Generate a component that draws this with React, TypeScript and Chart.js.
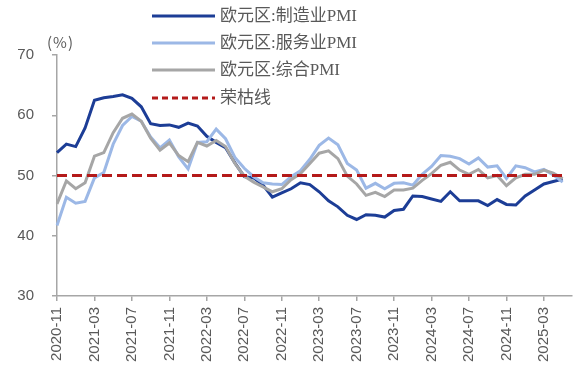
import React, { useEffect, useRef } from "react";
import { Chart, registerables } from "chart.js";

Chart.register(...registerables);

const months: string[] = [
  "2020-11", "2020-12",
  "2021-01", "2021-02", "2021-03", "2021-04", "2021-05", "2021-06", "2021-07", "2021-08", "2021-09", "2021-10", "2021-11", "2021-12",
  "2022-01", "2022-02", "2022-03", "2022-04", "2022-05", "2022-06", "2022-07", "2022-08", "2022-09", "2022-10", "2022-11", "2022-12",
  "2023-01", "2023-02", "2023-03", "2023-04", "2023-05", "2023-06", "2023-07", "2023-08", "2023-09", "2023-10", "2023-11", "2023-12",
  "2024-01", "2024-02", "2024-03", "2024-04", "2024-05", "2024-06", "2024-07", "2024-08", "2024-09", "2024-10", "2024-11", "2024-12",
  "2025-01", "2025-02", "2025-03", "2025-04", "2025-05", "2025-06",
];

const manufacturing: (number | null)[] = [
  53.8, 55.2,
  54.8, 57.9, 62.5, 62.9, 63.1, 63.4, 62.8, 61.4, 58.6, 58.3, 58.4, 58.0,
  58.7, 58.2, 56.5, 55.5, 54.6, 52.1, 49.8, 49.6, 48.4, 46.4, 47.1, 47.8,
  48.8, 48.5, 47.3, 45.8, 44.8, 43.4, 42.7, 43.5, 43.4, 43.1, 44.2, 44.4,
  46.6, 46.5, 46.1, 45.7, 47.3, 45.8, 45.8, 45.8, 45.0, 46.0, 45.2, 45.1,
  46.6, 47.6, 48.6, 49.0, 49.4, null,
];

const services: (number | null)[] = [
  41.7, 46.4,
  45.4, 45.7, 49.6, 50.5, 55.2, 58.3, 59.8, 59.0, 56.4, 54.6, 55.9, 53.1,
  51.1, 55.5, 55.6, 57.7, 56.1, 53.0, 51.2, 49.8, 48.8, 48.6, 48.5, 49.8,
  50.8, 52.7, 55.0, 56.2, 55.1, 52.0, 50.9, 47.9, 48.7, 47.8, 48.7, 48.8,
  48.4, 50.2, 51.5, 53.3, 53.2, 52.8, 51.9, 52.9, 51.4, 51.6, 49.5, 51.6,
  51.3, 50.6, 51.0, 50.1, 48.9, null,
];

const composite: (number | null)[] = [
  45.3, 49.1,
  47.8, 48.8, 53.2, 53.8, 57.1, 59.5, 60.2, 59.0, 56.2, 54.2, 55.4, 53.3,
  52.3, 55.5, 54.9, 55.8, 54.8, 52.0, 49.9, 48.9, 48.1, 47.3, 47.8, 49.3,
  50.3, 52.0, 53.7, 54.1, 52.8, 49.9, 48.6, 46.7, 47.2, 46.5, 47.6, 47.6,
  47.9, 49.2, 50.3, 51.7, 52.2, 50.9, 50.2, 51.0, 49.6, 50.0, 48.3, 49.6,
  50.2, 50.2, 50.9, 50.4, 49.5, null,
];

const boomBust: (number | null)[] = months.map((_, i) => (i < months.length - 1 ? 50 : null));

const yTicks: number[] = [30, 40, 50, 60, 70];

const seriesNames = ["欧元区:制造业PMI", "欧元区:服务业PMI", "欧元区:综合PMI", "荣枯线"];

const COLORS = {
  mfg: "#1c3d96",
  svc: "#9cb8e6",
  comp: "#a6a6a6",
  line: "#b41a1a",
  axis: "#a6a6a6",
  text: "#595959",
};

export default function App() {
  const canvasRef = useRef<HTMLCanvasElement | null>(null);

  useEffect(() => {
    if (!canvasRef.current) return;
    const chart = new Chart(canvasRef.current, {
      type: "line",
      data: {
        labels: months,
        datasets: [
          {
            label: seriesNames[0],
            data: manufacturing,
            borderColor: COLORS.mfg,
            borderWidth: 3,
            pointRadius: 0,
            tension: 0,
            order: 3,
          },
          {
            label: seriesNames[1],
            data: services,
            borderColor: COLORS.svc,
            borderWidth: 3,
            pointRadius: 0,
            tension: 0,
            order: 2,
          },
          {
            label: seriesNames[2],
            data: composite,
            borderColor: COLORS.comp,
            borderWidth: 3,
            pointRadius: 0,
            tension: 0,
            order: 1,
          },
          {
            label: seriesNames[3],
            data: boomBust,
            borderColor: COLORS.line,
            borderWidth: 3,
            borderDash: [10, 5],
            pointRadius: 0,
            tension: 0,
            order: 0,
          },
        ],
      },
      options: {
        animation: false,
        responsive: true,
        maintainAspectRatio: false,
        layout: { padding: { top: 55, right: 7, left: 0, bottom: 0 } },
        plugins: { legend: { display: false }, tooltip: { enabled: false } },
        scales: {
          x: {
            type: "category",
            offset: false,
            grid: {
              drawOnChartArea: false,
              drawTicks: true,
              tickLength: 5,
              color: COLORS.axis,
              lineWidth: 1.5,
            },
            border: { display: true, color: COLORS.axis, width: 1.5 },
            ticks: {
              autoSkip: false,
              maxRotation: 90,
              minRotation: 90,
              padding: 6,
              color: COLORS.text,
              font: { family: "'Liberation Sans', Arial, sans-serif", size: 15 },
              callback: (_v: any, i: number) => (i % 4 === 0 ? months[i] : null),
            },
            afterFit: (s: any) => {
              s.height = 79;
            },
          },
          y: {
            min: yTicks[0],
            max: yTicks[yTicks.length - 1],
            afterBuildTicks: (s: any) => {
              s.ticks = yTicks.map((v) => ({ value: v }));
            },
            grid: {
              drawOnChartArea: false,
              drawTicks: true,
              tickLength: 5,
              color: COLORS.axis,
              lineWidth: 1.5,
            },
            border: { display: true, color: COLORS.axis, width: 1.5 },
            ticks: {
              padding: 18,
              color: COLORS.text,
              font: { family: "'Liberation Sans', Arial, sans-serif", size: 15 },
            },
            afterFit: (s: any) => {
              s.width = 57;
            },
          },
        },
      },
    });
    return () => chart.destroy();
  }, []);

  const legendItems = [
    { name: seriesNames[0], color: COLORS.mfg, dash: "" },
    { name: seriesNames[1], color: COLORS.svc, dash: "" },
    { name: seriesNames[2], color: COLORS.comp, dash: "" },
    { name: seriesNames[3], color: COLORS.line, dash: "6 4" },
  ];
  const rowY = [16, 43, 70, 98];

  return (
    <div style={{ position: "fixed", left: 0, top: 0, width: 579, height: 375, background: "#fff" }}>
      <canvas ref={canvasRef} />
      <div
        style={{
          position: "absolute",
          left: 47,
          top: 32,
          fontFamily: "'Noto Sans CJK SC', sans-serif",
          fontSize: 15,
          color: COLORS.text,
          lineHeight: "20px",
          letterSpacing: 1,
        }}
      >
        (%)
      </div>
      {legendItems.map((it, i) => (
        <div key={it.name} style={{ position: "absolute", left: 0, top: rowY[i] - 12, height: 24, width: 579 }}>
          <svg style={{ position: "absolute", left: 152, top: 10 }} width={64} height={4}>
            <line
              x1={0}
              y1={2}
              x2={63}
              y2={2}
              stroke={it.color}
              strokeWidth={3}
              strokeDasharray={it.dash || undefined}
            />
          </svg>
          <div
            style={{
              position: "absolute",
              left: 220,
              top: 0,
              lineHeight: "24px",
              fontSize: 17,
              fontFamily: "'Liberation Serif', 'Noto Sans CJK SC', serif",
              color: COLORS.text,
              whiteSpace: "nowrap",
            }}
          >
            {it.name}
          </div>
        </div>
      ))}
    </div>
  );
}
